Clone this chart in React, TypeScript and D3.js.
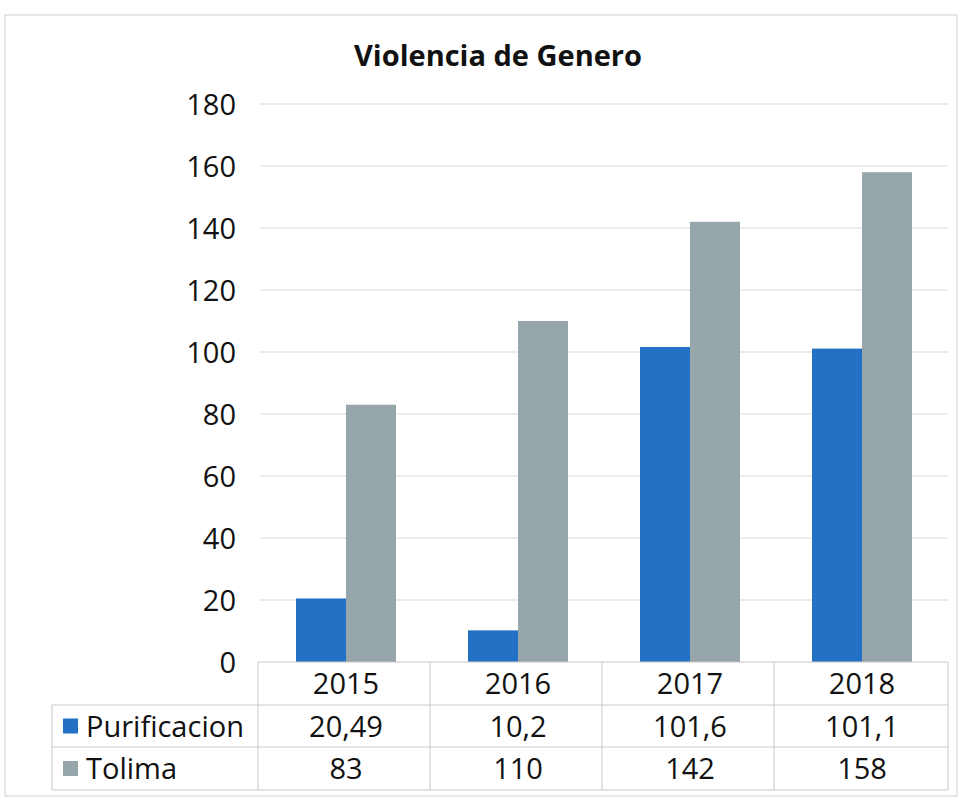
import React from "react";
import * as d3 from "d3";

const years = ["2015", "2016", "2017", "2018"];
const seriesNames = ["Purificacion", "Tolima"];
const purificacion = [20.49, 10.2, 101.6, 101.1];
const tolima = [83, 110, 142, 158];
const purificacionLabels = ["20,49", "10,2", "101,6", "101,1"];
const tolimaLabels = ["83", "110", "142", "158"];
const yTicks = [0, 20, 40, 60, 80, 100, 120, 140, 160, 180];
const colors = ["#2271C4", "#97A6AA"];

const FONT = "'Open Sans', 'DejaVu Sans', sans-serif";

export default function App() {
  const W = 962, H = 803;
  const left = 260, right = 948, top = 104, bottom = 662;
  const x = d3.scaleBand<string>().domain(years).range([left, right]).paddingInner(0).paddingOuter(0);
  const y = d3.scaleLinear().domain([0, 180]).range([bottom, top]);
  const inner = d3.scaleBand<string>().domain(seriesNames).range([0, 100]);
  const bw = x.bandwidth();
  const series = [purificacion, tolima];
  const labels = [purificacionLabels, tolimaLabels];
  const rowTops = [662, 705, 747, 790];
  const legendLeft = 52;
  const gridColor = "#d9d9d9";
  const tableColor = "#c8c8c8";
  const fs = 29;
  const dy = 10.5;

  return (
    <svg width={W} height={H} style={{ position: "absolute", left: 0, top: 0, background: "#fff" }}>
      <rect x={5} y={15} width={952} height={781} fill="#fff" stroke="#d0d0d0" strokeWidth={1} />
      <text x={498} y={66} textAnchor="middle" fontFamily={FONT} fontWeight={700} fontSize={29} fill="#111">
        Violencia de Genero
      </text>
      {yTicks.map((t) => (
        <g key={t}>
          {t > 0 && <line x1={left} x2={right} y1={y(t)} y2={y(t)} stroke={gridColor} strokeWidth={1} />}
          <text x={236} y={y(t) + dy} textAnchor="end" fontFamily={FONT} fontSize={fs} fill="#111">
            {t}
          </text>
        </g>
      ))}
      {years.map((yr, i) => (
        <g key={yr}>
          {seriesNames.map((s, k) => {
            const v = series[k][i];
            const bx = (x(yr) as number) + bw / 2 - 50 + (inner(s) as number);
            return (
              <rect key={s} x={bx} y={y(v)} width={inner.bandwidth()} height={y(0) - y(v)} fill={colors[k]} />
            );
          })}
        </g>
      ))}
      {/* data table */}
      <line x1={left - 2} x2={right} y1={rowTops[0]} y2={rowTops[0]} stroke={tableColor} />
      {rowTops.slice(1).map((ry) => (
        <line key={ry} x1={legendLeft} x2={right} y1={ry} y2={ry} stroke={tableColor} />
      ))}
      <line x1={legendLeft} x2={legendLeft} y1={rowTops[1]} y2={rowTops[3]} stroke={tableColor} />
      {years.map((yr) => (
        <line key={yr} x1={(x(yr) as number) - 2} x2={(x(yr) as number) - 2} y1={rowTops[0]} y2={rowTops[3]} stroke={tableColor} />
      ))}
      <line x1={right} x2={right} y1={rowTops[0]} y2={rowTops[3]} stroke={tableColor} />
      {years.map((yr) => (
        <text key={yr} x={(x(yr) as number) + bw / 2} y={(rowTops[0] + rowTops[1]) / 2 + dy} textAnchor="middle" fontFamily={FONT} fontSize={fs} fill="#111">
          {yr}
        </text>
      ))}
      {seriesNames.map((s, k) => {
        const cy = (rowTops[k + 1] + rowTops[k + 2]) / 2;
        return (
          <g key={s}>
            <rect x={63} y={cy - 7.5} width={15} height={15} fill={colors[k]} />
            <text x={86} y={cy + dy} fontFamily={FONT} fontSize={fs} fill="#111">
              {s}
            </text>
            {years.map((yr, i) => (
              <text key={yr} x={(x(yr) as number) + bw / 2} y={cy + dy} textAnchor="middle" fontFamily={FONT} fontSize={fs} fill="#111">
                {labels[k][i]}
              </text>
            ))}
          </g>
        );
      })}
    </svg>
  );
}
